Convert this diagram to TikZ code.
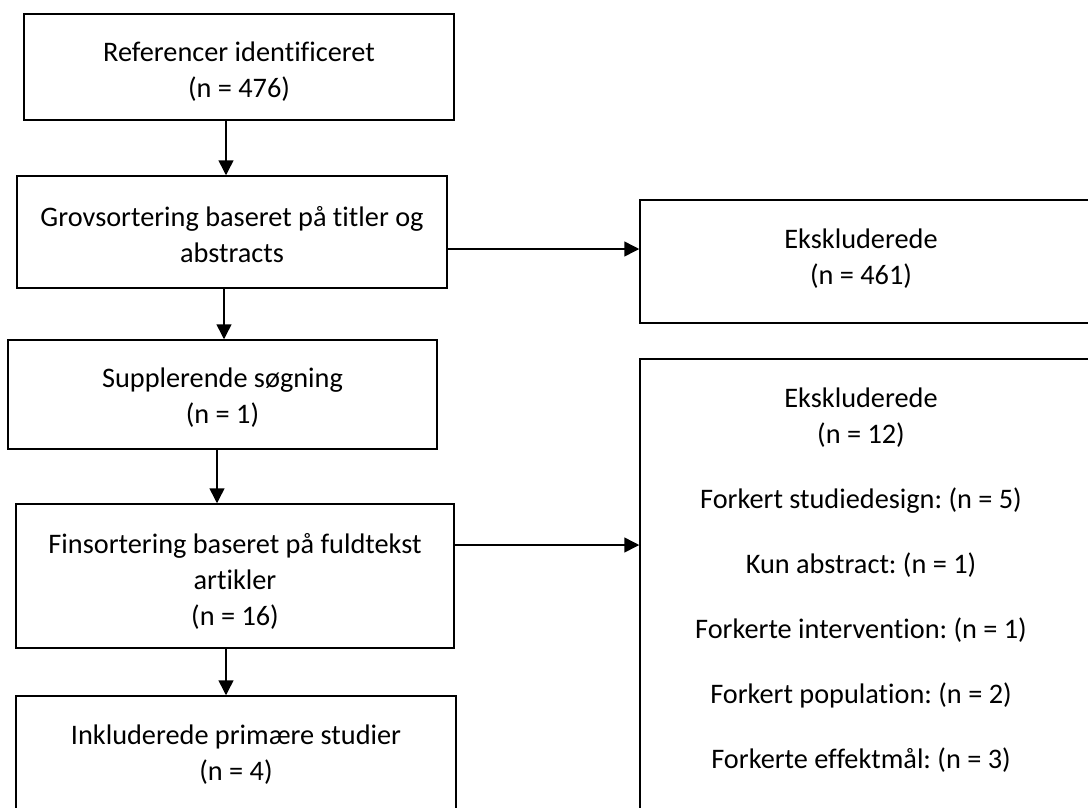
\documentclass[tikz,border=0pt]{standalone}
\usepackage{fontspec}
\setmainfont{Carlito}[Ligatures={NoCommon}]
\usetikzlibrary{arrows.meta}
\frenchspacing
\tikzset{
  box/.style={draw=black, line width=1.5pt, rectangle, inner sep=0pt},
  txt/.style={align=center, inner sep=0pt, font=\fontsize{28.3}{36}\selectfont},
  arr/.style={draw=black, line width=1.5pt, -{Triangle[width=15pt,length=15pt]}}
}
\begin{document}
\begin{tikzpicture}[x=1pt,y=-1pt]
\useasboundingbox (0,0) rectangle (1088,807);
\clip (0,0) rectangle (1088,807);
\fill[white] (0,0) rectangle (1088,807);
% boxes
\node[box, minimum width=430pt, minimum height=106pt] (b1) at (239,67) {};
\node[box, minimum width=430pt, minimum height=112pt] (b2) at (232,232) {};
\node[box, minimum width=429pt, minimum height=109pt] (b3) at (222.5,394.5) {};
\node[box, minimum width=438pt, minimum height=144pt] (b4) at (235,576) {};
\node[box, minimum width=440pt, minimum height=120pt] (b5) at (236,756) {};
\node[box, minimum width=460pt, minimum height=123pt] (r1) at (870,261.5) {};
\node[box, minimum width=460pt, minimum height=471pt] (r2) at (870,594.5) {};
% texts
\node[txt] (t1) at (239,71.5) {Referencer identificeret\\(n = 476)};
\node[txt] (t2) at (232,234.5) {Grovsortering baseret på titler og\\abstracts};
\node[txt] (t3) at (222.5,397.5) {Supplerende søgning\\(n = 1)};
\node[txt] (t4) at (235,581) {Finsortering baseret på fuldtekst\\artikler\\(n = 16)};
\node[txt] (t5) at (236,755) {Inkluderede primære studier\\(n = 4)};
\node[txt] (tr1) at (861,258.5) {Ekskluderede\\(n = 461)};
\node[txt] (tr2) at (861,580) {Ekskluderede\\(n = 12)\\[29pt]Forkert studiedesign: (n = 5)\\[29pt]Kun abstract: (n = 1)\\[29pt]Forkerte intervention: (n = 1)\\[29pt]Forkert population: (n = 2)\\[29pt]Forkerte effektmål: (n = 3)};
% connector positions
\coordinate (x1) at (226,0);
\coordinate (x2) at (224,0);
\coordinate (x3) at (217,0);
\coordinate (x4) at (226,0);
\coordinate (y1) at (0,249);
\coordinate (y2) at (0,545);
% connectors
\draw[arr] (b1.south -| x1) -- (b2.north -| x1);
\draw[arr] (b2.south -| x2) -- (b3.north -| x2);
\draw[arr] (b3.south -| x3) -- (b4.north -| x3);
\draw[arr] (b4.south -| x4) -- (b5.north -| x4);
\draw[arr] (b2.east |- y1) -- (r1.west |- y1);
\draw[arr] (b4.east |- y2) -- (r2.west |- y2);
\end{tikzpicture}
\end{document}
